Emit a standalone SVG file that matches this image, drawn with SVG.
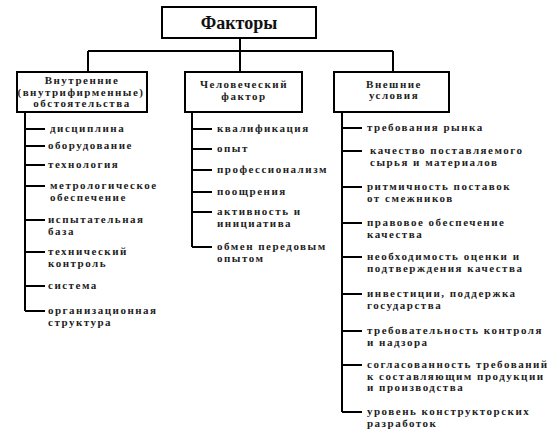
<svg xmlns="http://www.w3.org/2000/svg" width="551" height="435" viewBox="0 0 551 435" font-family="Liberation Serif, serif">
<style>
.box{fill:#fff;stroke:#000;stroke-width:2}
.ln{fill:none;stroke:#000;stroke-width:2}
.t{font-weight:700;font-size:11px;letter-spacing:1.5px;fill:#222}
.c{text-anchor:middle}
.title{font-weight:700;font-size:18px;fill:#111;text-anchor:middle}
</style>
<rect width="551" height="435" fill="#fff"/>
<g id="connectors">
<path class="ln" d="M240,38 V51 M88,51 H393 M88,51 V72 M240,51 V72 M393,51 V72"/>
<path class="ln" d="M25,112 V311 M25,129 H45 M25,146 H45 M25,165 H45 M25,186 H45 M25,220 H45 M25,252 H45 M25,286 H45 M25,311 H45"/>
<path class="ln" d="M192,112 V247 M192,129 H212 M192,149 H212 M192,170 H212 M192,192 H212 M192,212 H212 M192,247 H212"/>
<path class="ln" d="M342,112 V412 M342,128 H362 M342,151 H362 M342,187 H362 M342,223 H362 M342,257 H362 M342,294 H362 M342,331 H362 M342,365 H362 M342,412 H362"/>
</g>
<g id="root">
<rect class="box" x="162" y="7" width="154" height="31"/>
<text class="title" x="239" y="29">Факторы</text>
</g>
<g id="internal">
<rect class="box" x="17" y="72" width="130" height="40"/>
<text class="t c" x="82" y="84">Внутренние</text>
<text class="t c" x="81" y="95.5">(внутрифирменные)</text>
<text class="t c" x="82" y="107">обстоятельства</text>
</g>
<g id="human">
<rect class="box" x="185" y="72" width="117" height="40"/>
<text class="t c" x="244" y="88">Человеческий</text>
<text class="t c" x="244" y="100">фактор</text>
</g>
<g id="external">
<rect class="box" x="334" y="72" width="115" height="40"/>
<text class="t c" x="394" y="88">Внешние</text>
<text class="t c" x="394" y="99">условия</text>
</g>
<g id="internal-items">
<text class="t" x="50" y="132">дисциплина</text>
<text class="t" x="48" y="149">оборудование</text>
<text class="t" x="48" y="168">технология</text>
<text class="t" x="50" y="189">метрологическое</text>
<text class="t" x="50" y="200.5">обеспечение</text>
<text class="t" x="48" y="223">испытательная</text>
<text class="t" x="48" y="234.5">база</text>
<text class="t" x="48" y="255">технический</text>
<text class="t" x="48" y="266.5">контроль</text>
<text class="t" x="48" y="289">система</text>
<text class="t" x="48" y="314">организационная</text>
<text class="t" x="48" y="325.5">структура</text>
</g>
<g id="human-items">
<text class="t" x="217" y="132">квалификация</text>
<text class="t" x="217" y="152">опыт</text>
<text class="t" x="217" y="173">профессионализм</text>
<text class="t" x="217" y="195">поощрения</text>
<text class="t" x="217" y="215">активность и</text>
<text class="t" x="217" y="226.5">инициатива</text>
<text class="t" x="217" y="250">обмен передовым</text>
<text class="t" x="217" y="261.5">опытом</text>
</g>
<g id="external-items">
<text class="t" x="367" y="131">требования рынка</text>
<text class="t" x="370" y="154">качество поставляемого</text>
<text class="t" x="370" y="165.5">сырья и материалов</text>
<text class="t" x="367" y="190">ритмичность поставок</text>
<text class="t" x="367" y="201.5">от смежников</text>
<text class="t" x="367" y="226">правовое обеспечение</text>
<text class="t" x="367" y="237.5">качества</text>
<text class="t" x="367" y="260">необходимость оценки и</text>
<text class="t" x="367" y="271.5">подтверждения качества</text>
<text class="t" x="367" y="297">инвестиции, поддержка</text>
<text class="t" x="367" y="308.5">государства</text>
<text class="t" x="367" y="334">требовательность контроля</text>
<text class="t" x="367" y="345.5">и надзора</text>
<text class="t" x="367" y="368">согласованность требований</text>
<text class="t" x="367" y="379.5">к составляющим продукции</text>
<text class="t" x="367" y="391">и производства</text>
<text class="t" x="367" y="415">уровень конструкторских</text>
<text class="t" x="367" y="426.5">разработок</text>
</g>
</svg>
